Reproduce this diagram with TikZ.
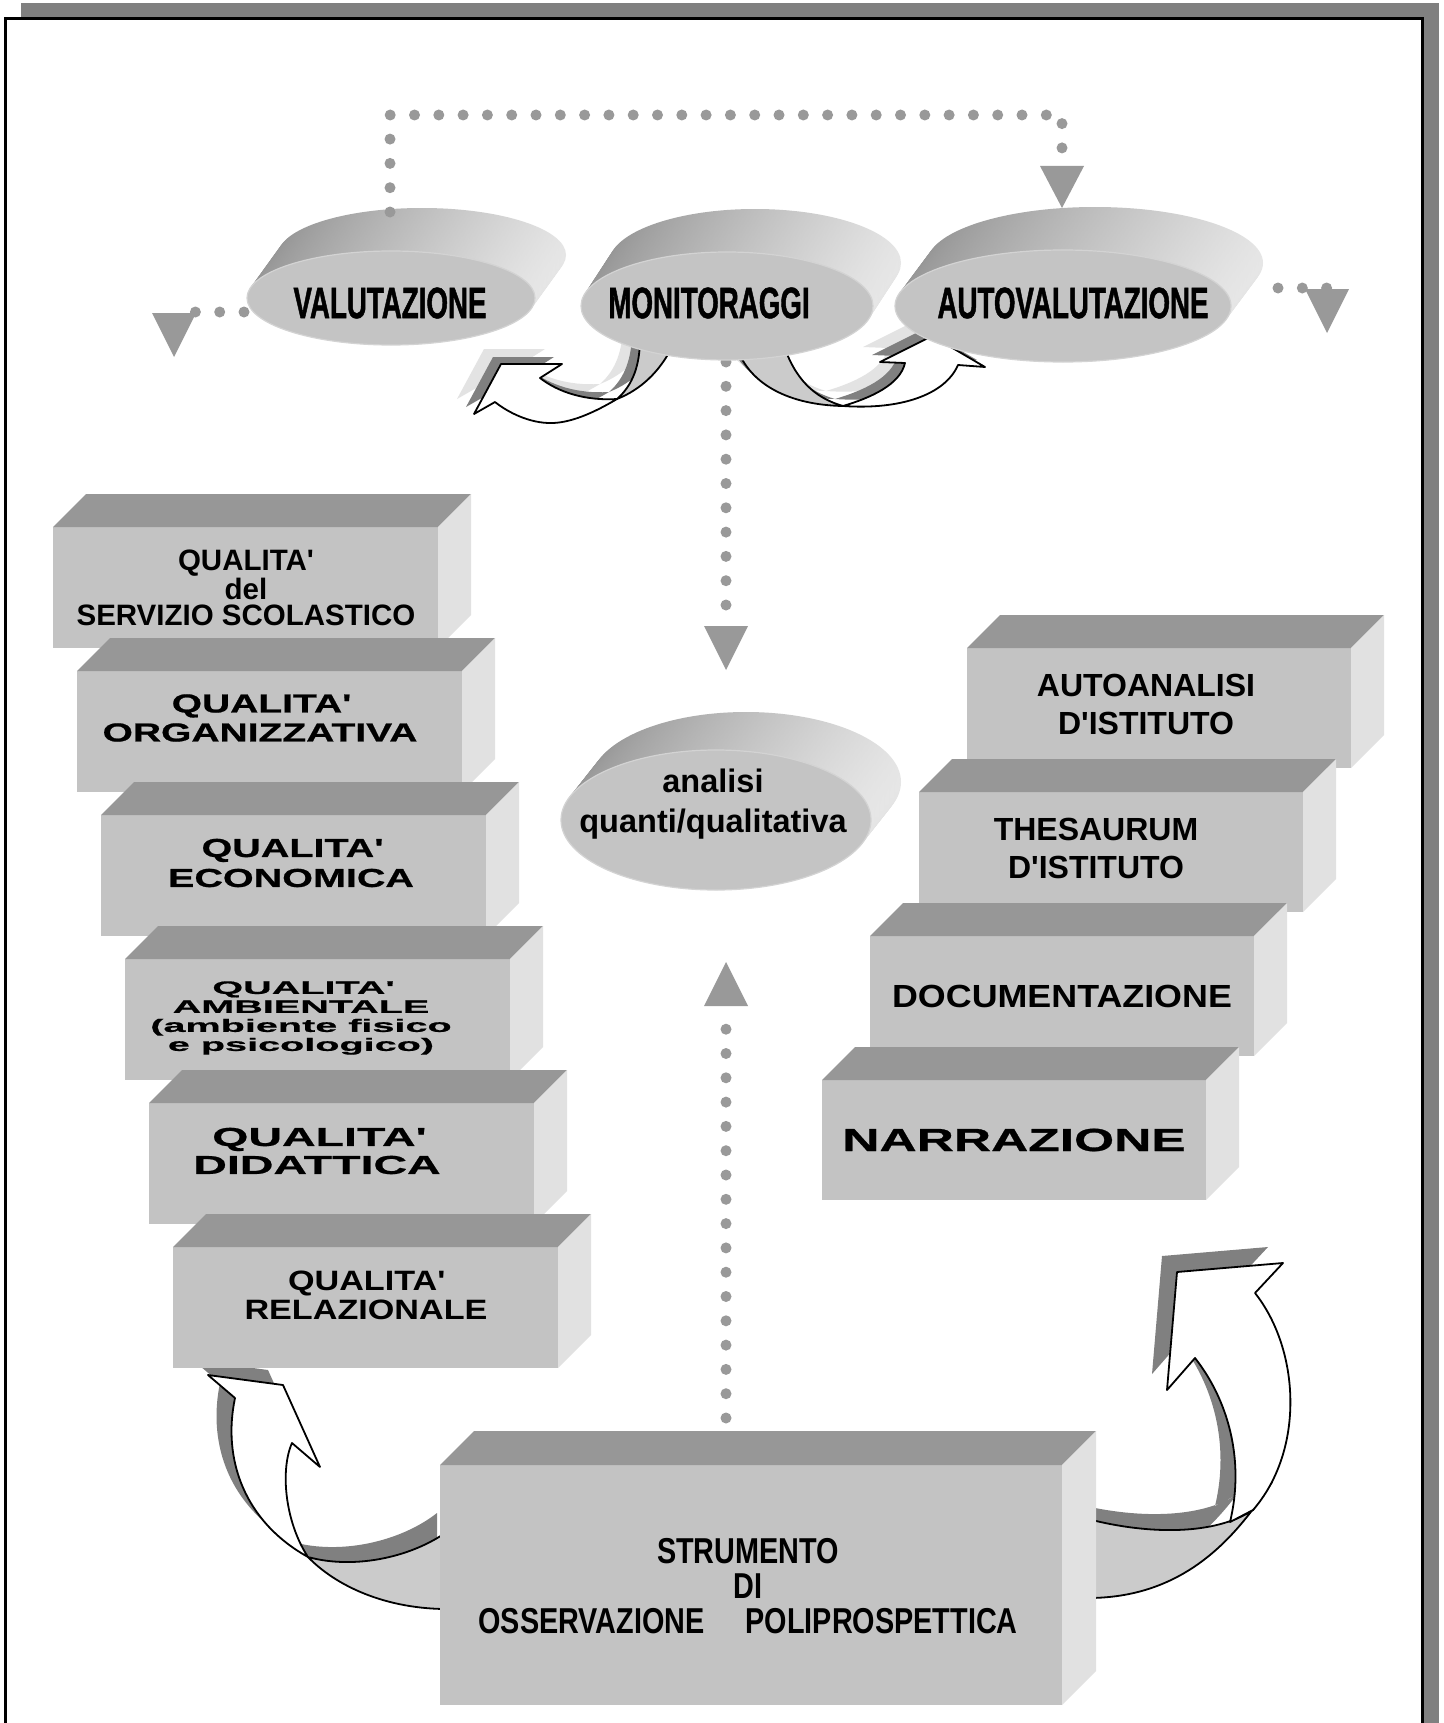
\documentclass[tikz,border=0pt]{standalone}
\usepackage{fontspec}
\setmainfont{Liberation Sans}
\newfontfamily\fell{Liberation Sans}[FakeStretch=0.63,FakeBold=1]
\newfontfamily\fstrum{Liberation Sans}[FakeStretch=0.8]
\newfontfamily\fnorm{Liberation Sans}
\newfontfamily\fdoc{Liberation Sans}[FakeStretch=1.12]
\newfontfamily\frel{Liberation Sans}[FakeStretch=1.22]
\newfontfamily\forg{Liberation Sans}[FakeStretch=1.5,FakeBold=0.8]
\newfontfamily\feco{Liberation Sans}[FakeStretch=1.52,FakeBold=0.8]
\newfontfamily\fdid{Liberation Sans}[FakeStretch=1.79,FakeBold=0.8]
\newfontfamily\famb{Liberation Sans}[FakeStretch=2.2,FakeBold=0.8]
\newfontfamily\fnarr{Liberation Sans}[FakeStretch=1.61,FakeBold=0.8]
\usetikzlibrary{calc,shapes.geometric}
\definecolor{frontg}{HTML}{C3C3C3}
\definecolor{topg}{HTML}{979797}
\definecolor{sideg}{HTML}{E1E1E1}
\definecolor{ellg}{HTML}{C4C4C4}
\definecolor{ellrim}{HTML}{D3D3D3}
\definecolor{extd}{HTML}{959595}
\definecolor{extl}{HTML}{E6E6E6}
\definecolor{dotg}{HTML}{999999}
\definecolor{shad}{HTML}{808080}
\definecolor{ribg}{HTML}{CBCBCB}
\definecolor{ribl}{HTML}{E3E3E3}
\pgfdeclarelayer{bg}
\pgfdeclarelayer{conn}
\pgfsetlayers{bg,conn,main}
\newcommand\apo{\textquotesingle}
\newcommand\mycuboid[6]{%
  \node[boxfront, anchor=north west, minimum width=#4, minimum height=#5] (#1) at (#2,#3) {};
  \fill[topg] (#1.north west) -- ++(#6,-#6) -- ([shift={(#6,-#6)}]#1.north east) -- (#1.north east) -- cycle;
  \fill[sideg] (#1.north east) -- ++(#6,-#6) -- ([shift={(#6,-#6)}]#1.south east) -- (#1.south east) -- cycle;
}
\newcommand\extr[5]{%
  \foreach \k in {24,23,...,1}{
    \shade[left color=extd, right color=extl] ($(#1.center)+({\k/24*(#2)},{\k/24*(#3)})$) ellipse [x radius=#4, y radius=#5];
  }}
% curved ribbon arrows
\def\TLface{(540,378) .. controls (558,392) and (585,401) .. (617,399) .. controls (595,412) and (570,424) .. (548,423) .. controls (525,422) and (505,410) .. (495,402) -- (474,414) -- (501,364) -- (562,364) -- cycle}
\def\TLtw{(640,338) .. controls (640,365) and (633,385) .. (617,399) .. controls (640,390) and (660,372) .. (673,345) -- cycle}
\def\TRface{(843,406) .. controls (870,398) and (900,385) .. (905,363) -- (880,362) -- (932,336) -- (985,367) -- (958,365) .. controls (945,395) and (900,410) .. (843,406) -- cycle}
\def\TRtw{(737,348) .. controls (750,385) and (790,405) .. (843,406) .. controls (815,398) and (795,380) .. (783,343) -- cycle}
\def\BLface{(235,1398) .. controls (222,1460) and (245,1522) .. (308,1557) .. controls (285,1522) and (280,1470) .. (292,1443) -- (320,1467) -- (283,1385) -- (208,1375) -- cycle}
\def\BLtw{(308,1557) .. controls (335,1585) and (385,1610) .. (452,1609) -- (452,1528) .. controls (415,1557) and (355,1570) .. (308,1557) -- cycle}
\def\BRface{(1255,1293) .. controls (1300,1350) and (1305,1450) .. (1253,1510) -- (1230,1522) .. controls (1245,1460) and (1228,1400) .. (1195,1358) -- (1167,1390) -- (1177,1272) -- (1283,1263) -- cycle}
\def\BRtw{(1253,1510) .. controls (1215,1535) and (1150,1535) .. (1088,1519) -- (1088,1598) .. controls (1190,1598) and (1240,1530) .. (1272,1482) -- cycle}
\begin{document}
\begin{tikzpicture}[x=1pt,y=-1pt,
  boxfront/.style={rectangle, fill=frontg, inner sep=0, outer sep=0},
  ellfront/.style={ellipse, fill=ellg, draw=ellrim, line width=1.2, inner sep=0, outer sep=0},
  lbl/.style={align=center, inner sep=0, text=black},
  dotline/.style={draw=dotg, line width=11, line cap=round, dash pattern=on 0pt off 24.3pt},
  tri/.style={fill=dotg},
  ribface/.style={fill=white, draw=black, line width=1.8, line join=round},
  ribtw/.style={fill=ribg, draw=black, line width=1.8, line join=round},
  ribdk/.style={fill=shad},
  riblt/.style={fill=ribl}]
\useasboundingbox (0,0) rectangle (1443,1723);

% ---------- ellipses (front faces) ----------
\node[ellfront, minimum width=288, minimum height=94] (valut) at (391,298) {};
\node[ellfront, minimum width=292, minimum height=108] (monit) at (727,306) {};
\node[ellfront, minimum width=336, minimum height=112] (autov) at (1063,306) {};
\node[ellfront, minimum width=310, minimum height=140] (anal) at (716,820) {};

\node[lbl, font=\fell\bfseries\fontsize{44}{48}\selectfont] (valutt) at (390,303) {VALUTAZIONE};
\node[lbl, font=\fell\bfseries\fontsize{44}{48}\selectfont] (monitt) at (709,303) {MONITORAGGI};
\node[lbl, font=\fell\bfseries\fontsize{44}{48}\selectfont] (autovt) at (1073,303) {AUTOVALUTAZIONE};
\node[lbl, font=\fnorm\bfseries\fontsize{32.5}{40}\selectfont] (analt) at (713,804) {analisi\\quanti/qualitativa};

% ---------- left stack ----------
\mycuboid{b1}{53}{527}{385}{121}{33}
\mycuboid{b2}{77}{671}{385}{121}{33}
\mycuboid{b3}{101}{815}{385}{121}{33}
\mycuboid{b4}{125}{959}{385}{121}{33}
\mycuboid{b5}{149}{1103}{385}{121}{33}
\mycuboid{b6}{173}{1247}{385}{121}{33}
% ---------- right stack ----------
\mycuboid{r1}{967}{648}{384}{120}{33}
\mycuboid{r2}{919}{792}{384}{120}{33}
\mycuboid{r3}{870}{936}{384}{120}{33}
\mycuboid{r4}{822}{1080}{384}{120}{33}
% ---------- bottom box ----------
\mycuboid{strum}{440}{1465}{622}{240}{34}

\node[lbl, font=\fnorm\bfseries\fontsize{29.5}{26.5}\selectfont] (b1t) at (246,588) {QUALITA\apo\\del\\SERVIZIO SCOLASTICO};
\node[lbl, font=\forg\bfseries\fontsize{26}{29}\selectfont] (b2t) at (260,718) {QUALITA\apo\\ORGANIZZATIVA};
\node[lbl, font=\feco\bfseries\fontsize{26}{30}\selectfont] (b3t) at (291,863) {QUALITA\apo\\ECONOMICA};
\node[lbl, font=\famb\bfseries\fontsize{18}{19}\selectfont] (b4t) at (301,1018) {QUALITA\apo\\AMBIENTALE\\(ambiente fisico\\e psicologico)};
\node[lbl, font=\fdid\bfseries\fontsize{26}{28}\selectfont] (b5t) at (317,1151) {QUALITA\apo\\DIDATTICA};
\node[lbl, font=\frel\bfseries\fontsize{28}{29}\selectfont] (b6t) at (366,1295) {QUALITA\apo\\RELAZIONALE};
\node[lbl, font=\fnorm\bfseries\fontsize{32}{38}\selectfont] (r1t) at (1146,704) {AUTOANALISI\\D\apo ISTITUTO};
\node[lbl, font=\fnorm\bfseries\fontsize{32}{38}\selectfont] (r2t) at (1096,848) {THESAURUM\\D\apo ISTITUTO};
\node[lbl, font=\fdoc\bfseries\fontsize{32}{38}\selectfont] (r3t) at (1062,996) {DOCUMENTAZIONE};
\node[lbl, font=\fnarr\bfseries\fontsize{32}{38}\selectfont] (r4t) at (1014,1140) {NARRAZIONE};
\node[lbl, font=\fstrum\bfseries\fontsize{36}{35}\selectfont] (strumt) at (748,1586) {STRUMENTO\\DI\\OSSERVAZIONE\hspace{33pt} POLIPROSPETTICA};

% ---------- background: frame and extrusions ----------
\begin{pgfonlayer}{bg}
  \fill[white] (0,0) rectangle (1443,1723);
  \fill[shad] (21,3) rectangle (1439,1723);
  \fill[white] (5,19) rectangle (1422,1723);
  \draw[line width=3, line join=miter] (5,1723) -- (5,19) -- (1422,19) -- (1422,1723);
  \extr{valut}{31}{-43}{144}{47}
  \extr{monit}{28}{-43}{146}{54}
  \extr{autov}{32}{-43}{168}{56}
  \extr{anal}{30}{-38}{155}{70}
\end{pgfonlayer}

% ---------- connectors ----------
\begin{pgfonlayer}{conn}
  % top loop VALUTAZIONE -> AUTOVALUTAZIONE
  \coordinate (topL) at (390,115);
  \coordinate (topR) at (1062,115);
  \coordinate (t1) at (1062,166);
  \draw[dotline] ($(valut.north)+(-1,-39)$) -- (topL) -- (topR) -- (t1);
  \fill[tri] ($(t1)+(-22,0)$) -- ($(t1)+(22,0)$) -- ($(autov.north)+(-1,-42)$) -- cycle;
  % left out of VALUTAZIONE
  \coordinate (t2) at (174,313);
  \draw[dotline] ($(valut.west)+(-3,14)$) -- ($(t2)+(-2,-1)$);
  \fill[tri] ($(t2)+(-22,0)$) -- ($(t2)+(22,0)$) -- ($(t2)+(0,44)$) -- cycle;
  % right out of AUTOVALUTAZIONE
  \coordinate (t3) at (1327,289);
  \draw[dotline] ($(autov.east)+(47,-18)$) -- ($(t3)+(0,-1)$);
  \fill[tri] ($(t3)+(-22,0)$) -- ($(t3)+(22,0)$) -- ($(t3)+(0,44)$) -- cycle;
  % MONITORAGGI -> analisi
  \coordinate (t4) at (726,626);
  \draw[dotline] ($(monit.south)+(-1,2)$) -- ($(t4)+(0,-14)$);
  \fill[tri] ($(t4)+(-22,0)$) -- ($(t4)+(22,0)$) -- ($(t4)+(0,44)$) -- cycle;
  % STRUMENTO -> analisi
  \coordinate (t5) at (726,1006);
  \draw[dotline] ($(strum.north)+(-25,-47)$) -- ($(t5)+(0,18)$);
  \fill[tri] ($(t5)+(-22,0)$) -- ($(t5)+(22,0)$) -- ($(t5)+(0,-44)$) -- cycle;

  % curved ribbon arrows
  \fill[riblt, shift={(-17,-15)}] \TLface \TLtw;
  \fill[ribdk, shift={(-8,-7)}] \TLface \TLtw;
  \path[ribtw] \TLtw;
  \path[ribface] \TLface;

  \fill[riblt, shift={(-17,-15)}] \TRface \TRtw;
  \fill[ribdk, shift={(-8,-7)}] \TRface \TRtw;
  \path[ribtw] \TRtw;
  \path[ribface] \TRface;

  \fill[ribdk, shift={(-15,-15)}] \BLface \BLtw;
  \path[ribtw] \BLtw;
  \path[ribface] \BLface;

  \fill[ribdk, shift={(-15,-16)}] \BRface \BRtw;
  \path[ribtw] \BRtw;
  \path[ribface] \BRface;
\end{pgfonlayer}
\end{tikzpicture}
\end{document}
